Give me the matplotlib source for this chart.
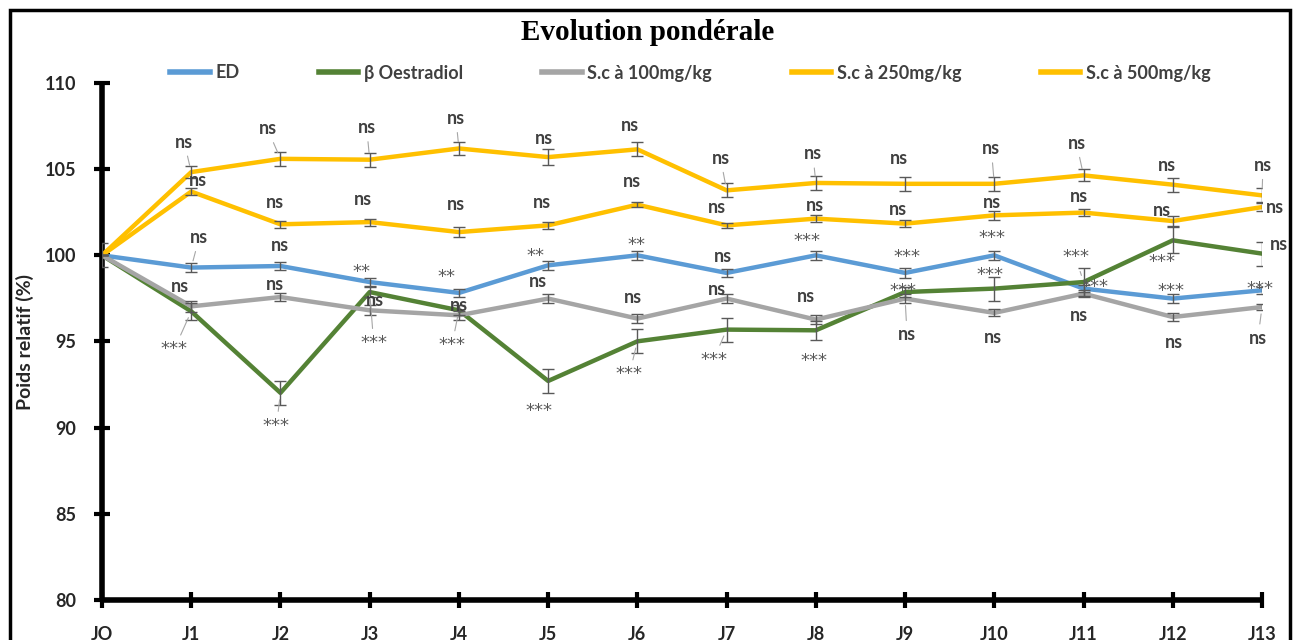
import matplotlib.pyplot as plt
from matplotlib.patches import Rectangle

# relative body weight (%) per day, mean and error
days = ["JO", "J1", "J2", "J3", "J4", "J5", "J6", "J7", "J8", "J9", "J10", "J11", "J12", "J13"]

ed = [100, 99.29, 99.38, 98.45, 97.82, 99.42, 100.0, 98.98, 100.0, 98.98, 100.0, 98.07, 97.49, 97.97]
oestradiol = [100, 96.75, 92.02, 97.87, 96.81, 92.71, 95.01, 95.69, 95.65, 97.87, 98.07, 98.45, 100.87, 100.1]
sc100 = [100, 97.04, 97.58, 96.81, 96.52, 97.49, 96.33, 97.49, 96.27, 97.49, 96.66, 97.78, 96.42, 97.0]
sc250 = [100, 103.7, 101.8, 101.93, 101.35, 101.74, 102.94, 101.74, 102.13, 101.84, 102.32, 102.48, 101.99, 102.8]
sc500 = [100, 104.83, 105.6, 105.55, 106.2, 105.7, 106.15, 103.77, 104.2, 104.15, 104.15, 104.64, 104.1, 103.48]

ed_err = [0, 0.25, 0.25, 0.25, 0.25, 0.25, 0.25, 0.25, 0.25, 0.3, 0.25, 0.2, 0.25, 0.2]
oestradiol_err = [0, 0.5, 0.7, 0.3, 0.3, 0.7, 0.7, 0.7, 0.55, 0.3, 0.7, 0.8, 0.75, 0.7]
sc100_err = [0.7, 0.3, 0.25, 0.3, 0.25, 0.25, 0.25, 0.25, 0.25, 0.25, 0.2, 0.2, 0.25, 0.2]
sc250_err = [0, 0.2, 0.2, 0.2, 0.3, 0.2, 0.15, 0.15, 0.2, 0.2, 0.25, 0.2, 0.3, 0.25]
sc500_err = [0, 0.35, 0.4, 0.4, 0.4, 0.45, 0.4, 0.4, 0.4, 0.4, 0.4, 0.35, 0.4, 0.4]

# significance vs control
ed_sig = ["", "ns", "ns", "**", "**", "**", "**", "ns", "***", "***", "***", "***", "***", "***"]
oestradiol_sig = ["", "***", "***", "***", "***", "***", "***", "***", "***", "***", "***", "***", "***", "ns"]
sc100_sig = [""] + ["ns"] * 13
sc250_sig = [""] + ["ns"] * 13
sc500_sig = [""] + ["ns"] * 13

# label placement, pixels from the point (x right, y down)
ed_off = [(0, 0), (8, -30), (-1, -21), (-8, -13), (-12, -19), (-13, -12), (-1, -13), (-4, -16),
          (-9, -17), (2, -19), (-2, -20), (11, -5), (-2, -11), (-2, -4)]
oestradiol_off = [(0, 0), (-17, 35), (-4, 30), (4, 48), (-7, 32), (-9, 27), (-8, 30), (-13, 27),
                  (-2, 28), (-2, -4), (-4, -17), (-8, -28), (-11, 19), (17, -9)]
sc100_off = [(0, 0), (-11, -20), (-6, -13), (5, -10), (0, -10), (-10, -17), (-4, -21), (-10, -9),
             (-10, -23), (2, 36), (-1, 25), (-5, 22), (1, 25), (-4, 31)]
sc250_off = [(0, 0), (7, -11), (-6, -22), (-7, -23), (-3, -28), (-6, -23), (-5, -23), (-10, -18),
             (-1, -13), (-7, -14), (-2, -13), (-5, -16), (-11, -11), (13, 0)]
sc500_off = [(0, 0), (-7, -30), (-13, -30), (-3, -32), (-3, -30), (-4, -19), (-7, -24), (-6, -32),
             (-3, -29), (-6, -25), (-3, -35), (-7, -32), (-6, -19), (1, -30)]

series = [
    ("ED", ed, ed_err, ed_sig, ed_off, "#5B9BD5"),
    ("β Oestradiol", oestradiol, oestradiol_err, oestradiol_sig, oestradiol_off, "#548235"),
    ("S.c à 100mg/kg", sc100, sc100_err, sc100_sig, sc100_off, "#A5A5A5"),
    ("S.c à 250mg/kg", sc250, sc250_err, sc250_sig, sc250_off, "#FFC000"),
    ("S.c à 500mg/kg", sc500, sc500_err, sc500_sig, sc500_off, "#FFC000"),
]

plt.rcParams["font.family"] = ["Lato", "DejaVu Sans"]

fig = plt.figure(figsize=(12.95, 6.40), dpi=100)
ax = fig.add_axes([102 / 1295, 1 - 600 / 640, (1262 - 102) / 1295, (600 - 83) / 640])

x = list(range(len(days)))
for name, vals, err, sig, off, col in series:
    ax.plot(x, vals, color=col, lw=3.2, label=name, zorder=3, solid_joinstyle="round")
    ax.errorbar(x, vals, yerr=err, fmt="none", ecolor="#595959", elinewidth=1,
                capsize=4, capthick=1, zorder=4)
    for i, s in enumerate(sig):
        if not s:
            continue
        dx, dy = off[i]
        leader = (dx * dx + dy * dy) ** 0.5 >= 29
        star = s.startswith("*")
        ax.annotate(s, (x[i], vals[i]), xytext=(dx, -dy + (-3 if star else 0)),
                    textcoords="offset pixels", ha="center", va="center",
                    fontsize=13, family="DejaVu Sans" if star else "Lato",
                    fontweight="normal" if star else "bold",
                    color="#595959" if star else "#404040", zorder=6, annotation_clip=False,
                    arrowprops=dict(arrowstyle="-", color="#A6A6A6", lw=0.8,
                                    shrinkA=2, shrinkB=5) if leader else None)

ax.set_xlim(0, 13)
ax.set_ylim(80, 110)
ax.set_yticks([80, 85, 90, 95, 100, 105, 110])
ax.set_xticks(x)
ax.set_xticklabels(days)
for side in ("top", "right"):
    ax.spines[side].set_visible(False)
for side in ("left", "bottom"):
    ax.spines[side].set_linewidth(4)
    ax.spines[side].set_capstyle("butt")
ax.tick_params(direction="inout", length=11, width=3, labelsize=13, pad=13, colors="black")
for lab in ax.get_xticklabels() + ax.get_yticklabels():
    lab.set_fontweight("bold")
    lab.set_color("#262626")
ax.set_ylabel("Poids relatif (%)", fontsize=14, fontweight="bold", color="#262626", labelpad=8)

leg = ax.legend(loc="center", bbox_to_anchor=(0.507, 1 + 10 / 517), ncol=5, frameon=False,
                handlelength=2.2, columnspacing=4.4, handletextpad=0.3,
                prop=dict(size=13, weight="bold"))
for t in leg.get_texts():
    t.set_color("#404040")
for h in leg.get_lines():
    h.set_linewidth(4)

fig.text(0.5, 1 - 33 / 640, "Evolution pondérale", ha="center", va="center",
         fontsize=21, fontweight="bold", family="Liberation Serif")

# outer frame
fig.patches.append(Rectangle((9.5 / 1295, -0.1), (1289.5 - 9.5) / 1295, 1.1 - 9.5 / 640,
                             transform=fig.transFigure, fill=False, edgecolor="black",
                             lw=2.5, zorder=10))

fig.savefig("out.png", dpi=100)
